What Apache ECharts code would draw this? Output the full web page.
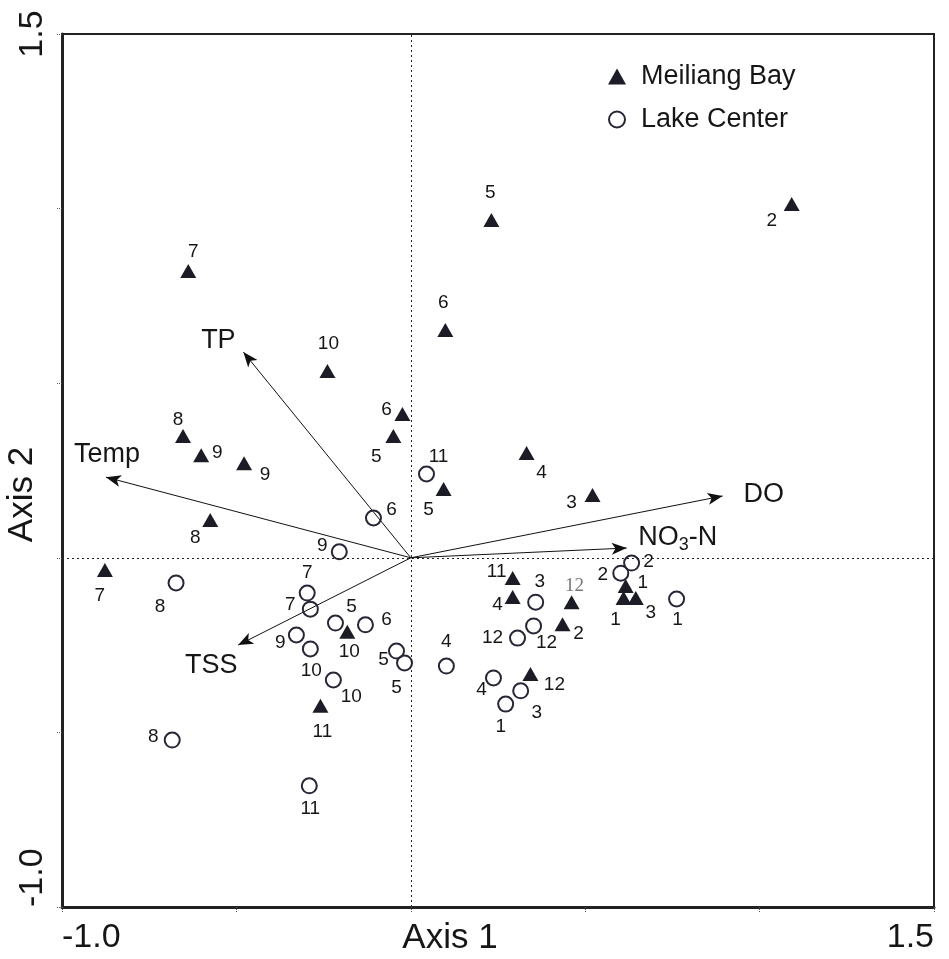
<!DOCTYPE html>
<html>
<head>
<meta charset="utf-8">
<script src="https://cdn.jsdelivr.net/npm/echarts@6/dist/echarts.min.js"></script>
<style>
  html, body { margin: 0; padding: 0; background: #fff; }
  #chart { width: 949px; height: 959px; }
</style>
</head>
<body>
<div id="chart"></div>
<script>
// Meiliang Bay samples (triangles)
const triX = [0.231, 1.092, -0.638, 0.099, -0.239, -0.024, -0.050, -0.653, -0.601, -0.478, 0.332, 0.094, 0.521,
  -0.575, -0.877, 0.292, 0.292, 0.461, 0.435, 0.616, 0.610, 0.645, 0.343, -0.182, -0.259];
const triY = [0.967, 1.013, 0.821, 0.652, 0.535, 0.412, 0.349, 0.349, 0.294, 0.271, 0.300, 0.197, 0.180,
  0.108, -0.035, -0.058, -0.112, -0.127, -0.190, -0.081, -0.115, -0.115, -0.333, -0.212, -0.424];
const triMonth = [5, 2, 7, 6, 10, 6, 5, 8, 9, 9, 4, 5, 3, 8, 7, 11, 4, 12, 2, 1, 1, 3, 12, 10, 11];

// Lake Center samples (circles)
const cirX = [0.045, -0.107, -0.205, -0.673, -0.297, -0.288, -0.216, -0.130, -0.328, -0.288, -0.041, -0.018, -0.222,
  0.102, -0.684, -0.291, 0.358, 0.352, 0.306, 0.633, 0.602, 0.762, 0.237, 0.315, 0.272];
const cirY = [0.240, 0.114, 0.017, -0.072, -0.101, -0.147, -0.187, -0.192, -0.221, -0.261, -0.267, -0.301, -0.350,
  -0.310, -0.522, -0.653, -0.127, -0.195, -0.230, -0.015, -0.044, -0.118, -0.344, -0.381, -0.419];
const cirMonth = [11, 6, 9, 8, 7, 7, 5, 6, 9, 10, 5, 5, 10, 4, 8, 11, 3, 12, 12, 2, 2, 1, 4, 3, 1];

// environmental vectors
const vectorNames = ['TP', 'Temp', 'DO', 'NO3-N', 'TSS'];
const vectorX = [-0.480, -0.874, 0.894, 0.619, -0.495];
const vectorY = [0.589, 0.231, 0.177, 0.028, -0.250];

// label placement (pixels, relative to the mark)
const triLabelOffset = [[-1, -27], [-20, 17], [5, -19], [-2, -27], [1, -27], [-16, -4], [-17, 21], [-5, -16], [16, -2],
  [21, 12], [15, 20], [-15, 21], [-21, 8], [-15, 18], [-5, 26], [-16, -6], [-15, 8], [3, -16], [16, 10], [17, -3],
  [-8, 22], [15, 15], [24, 11], [2, 20], [2, 26]];
const cirLabelOffset = [[12, -17], [18, -8], [-17, -6], [-16, 24], [0, -20], [-20, -4], [16, -16], [21, -5], [-16, 8],
  [1, 22], [-13, 9], [-8, 25], [18, 17], [0, -24], [-19, -3], [1, 23], [4, -20], [13, 17], [-25, 0], [17, -1],
  [-18, 2], [1, 21], [-12, 12], [16, 22], [-5, 23]];
const vectorLabelOffset = [[-25, -12], [1, -23], [41, -1], [51, -10], [-27, 20]];

const FONT = 'Liberation Sans, Arial, sans-serif';
const INK = '#1c1c26';
const TEXT = '#161616';

const chart = echarts.init(document.getElementById('chart'));

const triData = triX.map((x, i) => {
  const item = {
    value: [x, triY[i]],
    label: { formatter: String(triMonth[i]), offset: triLabelOffset[i] }
  };
  // one label in the source figure is set in a grey serif face
  if (i === 17) {
    item.label.fontFamily = 'Liberation Serif, serif';
    item.label.color = '#777';
  }
  return item;
});

const cirData = cirX.map((x, i) => ({
  value: [x, cirY[i]],
  label: { formatter: String(cirMonth[i]), offset: cirLabelOffset[i] }
}));

const vecLines = vectorX.map((x, i) => ({ coords: [[0, 0], [x, vectorY[i]]] }));
const vecLabels = vectorX.map((x, i) => ({
  value: [x, vectorY[i]],
  label: {
    formatter: vectorNames[i] === 'NO3-N' ? '{n|NO}{s|3}{n|-N}' : vectorNames[i],
    offset: vectorLabelOffset[i]
  }
}));

const numLabel = {
  show: true,
  position: 'inside',
  fontSize: 19,
  color: TEXT,
  fontFamily: FONT
};

const option = {
  animation: false,
  backgroundColor: '#fff',
  grid: {
    left: 62, right: 15, top: 34, bottom: 52,
    show: true, borderColor: '#222', borderWidth: 2,
    outerBoundsMode: 'none'
  },
  legend: {
    orient: 'vertical',
    left: 603,
    top: 58,
    itemWidth: 18,
    itemHeight: 16,
    itemGap: 16,
    data: ['Meiliang Bay', 'Lake Center'],
    textStyle: { fontSize: 27, color: TEXT, fontFamily: FONT, padding: [0, 0, 0, 10] }
  },
  xAxis: {
    type: 'value',
    min: -1,
    max: 1.5,
    interval: 0.5,
    name: 'Axis 1',
    nameLocation: 'middle',
    nameGap: 14,
    nameMoveOverlap: false,
    nameTextStyle: { fontSize: 35, color: TEXT, fontFamily: FONT, padding: [0, 96, 0, 0] },
    axisLine: { show: true, onZero: false, lineStyle: { color: '#222', width: 3 } },
    axisTick: { show: true, length: 6, lineStyle: { color: '#555', type: 'dotted', width: 1 } },
    splitLine: { show: false },
    axisLabel: {
      margin: 14,
      fontSize: 34,
      color: TEXT,
      fontFamily: FONT,
      alignMinLabel: 'left',
      alignMaxLabel: 'right',
      formatter: v => (v === -1 ? '-1.0' : v === 1.5 ? '1.5' : '')
    }
  },
  yAxis: {
    type: 'value',
    min: -1,
    max: 1.5,
    interval: 0.5,
    name: 'Axis 2',
    nameLocation: 'middle',
    nameGap: 22,
    nameMoveOverlap: false,
    nameTextStyle: { fontSize: 35, color: TEXT, fontFamily: FONT, padding: [0, 48, 0, 0] },
    axisLine: { show: true, onZero: false, lineStyle: { color: '#222', width: 3 } },
    axisTick: { show: true, length: 6, lineStyle: { color: '#555', type: 'dotted', width: 1 } },
    splitLine: { show: false },
    axisLabel: {
      margin: 12,
      rotate: 90,
      fontSize: 34,
      color: TEXT,
      fontFamily: FONT,
      alignMinLabel: 'left',
      alignMaxLabel: 'center',
      formatter: v => (v === -1 ? '-1.0' : v === 1.5 ? '1.5' : '')
    }
  },
  series: [
    {
      name: 'vectors',
      type: 'lines',
      coordinateSystem: 'cartesian2d',
      silent: true,
      symbol: ['none', 'arrow'],
      symbolSize: [0, [9, 15]],
      symbolOffset: [0, [0, 7]],
      lineStyle: { color: '#111', width: 1, opacity: 1 },
      data: vecLines,
      z: 2
    },
    {
      name: 'vector labels',
      type: 'scatter',
      silent: true,
      symbolSize: 0,
      itemStyle: { opacity: 1 },
      label: {
        show: true,
        position: 'inside',
        fontSize: 27,
        color: TEXT,
        fontFamily: FONT,
        rich: {
          n: { fontSize: 27, color: TEXT, fontFamily: FONT, lineHeight: 32 },
          s: { fontSize: 18, color: TEXT, fontFamily: FONT, lineHeight: 18, padding: [14, 0, 0, 0] }
        }
      },
      data: vecLabels,
      z: 3
    },
    {
      name: 'Meiliang Bay',
      type: 'scatter',
      symbol: 'triangle',
      symbolSize: [16, 14],
      itemStyle: { color: INK, opacity: 1 },
      label: numLabel,
      data: triData,
      z: 4
    },
    {
      name: 'Lake Center',
      type: 'scatter',
      symbol: 'circle',
      symbolSize: 15,
      itemStyle: { color: 'rgba(255,255,255,0)', borderColor: '#262636', borderWidth: 2, opacity: 1 },
      label: numLabel,
      data: cirData,
      markLine: {
        silent: true,
        symbol: 'none',
        label: { show: false },
        lineStyle: { color: '#222', width: 1, type: [2, 3] },
        data: [{ xAxis: 0 }, { yAxis: 0 }]
      },
      z: 4
    }
  ]
};

chart.setOption(option);
</script>
</body>
</html>
